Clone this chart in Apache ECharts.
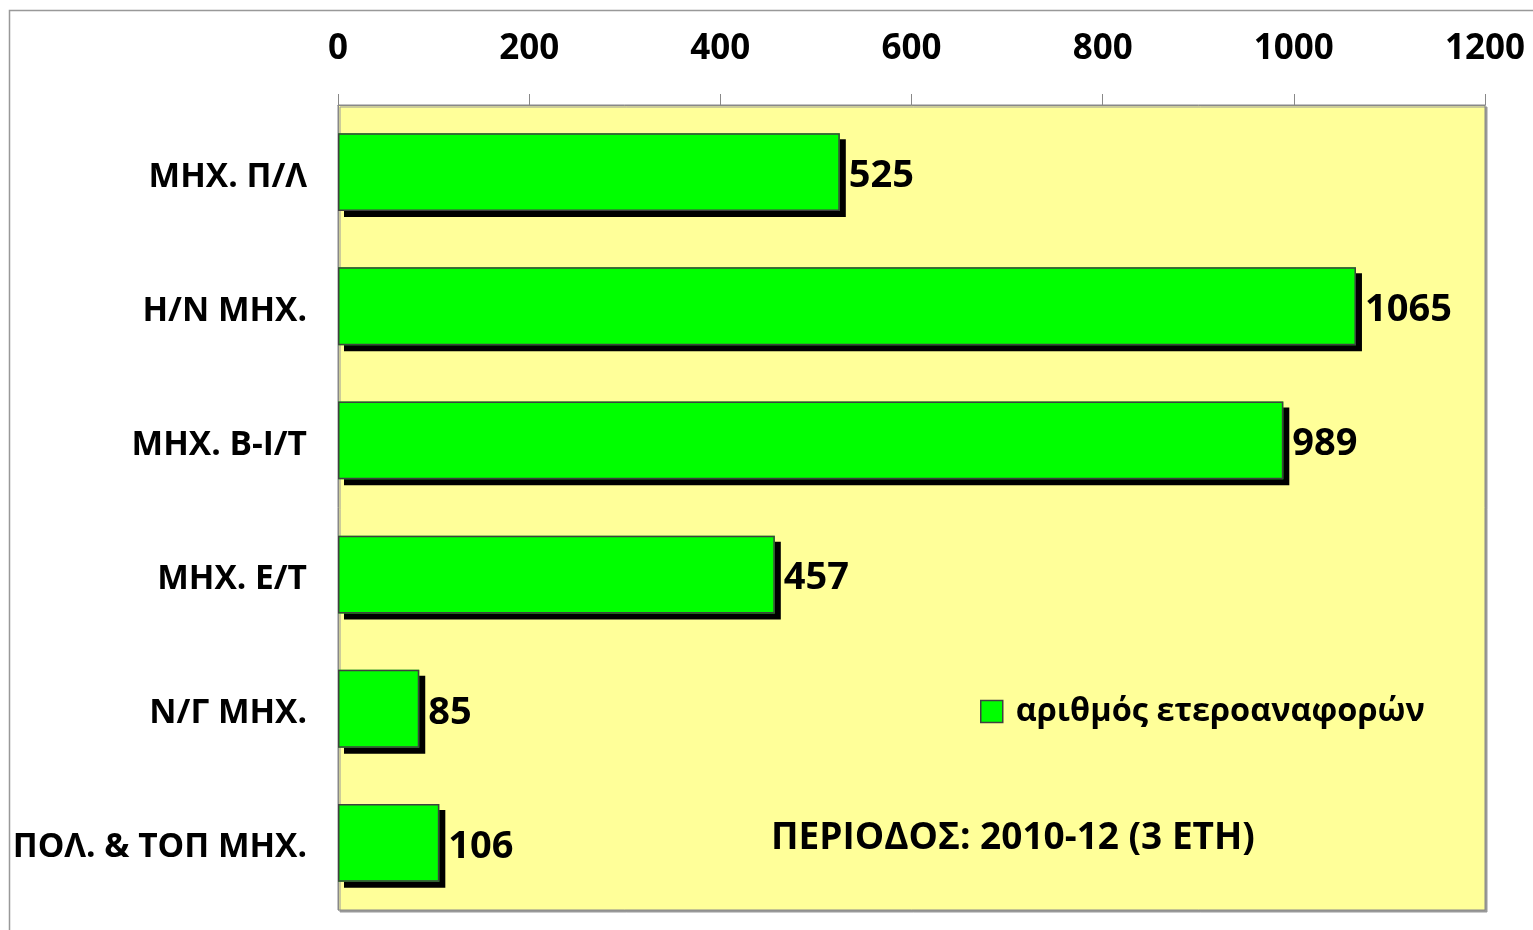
<!DOCTYPE html>
<html lang="el">
<head>
<meta charset="utf-8">
<title>ετεροαναφορές</title>
<script src="https://cdn.jsdelivr.net/npm/echarts@6/dist/echarts.min.js"></script>
<style>
  html, body { margin: 0; padding: 0; background: #fff; }
  #main { width: 1533px; height: 930px; }
</style>
</head>
<body>
<div id="main"></div>
<script>
// κατηγορίες και τιμές
var categories = ['ΜΗΧ. Π/Λ', 'Η/Ν ΜΗΧ.', 'ΜΗΧ. Β-Ι/Τ', 'ΜΗΧ. Ε/Τ', 'Ν/Γ ΜΗΧ.', 'ΠΟΛ. & ΤΟΠ ΜΗΧ.'];
var values = [525, 1065, 989, 457, 85, 106];
var seriesName = 'αριθμός ετεροαναφορών';
var periodText = 'ΠΕΡΙΟΔΟΣ: 2010-12 (3 ΕΤΗ)';
var xTicks = [0, 200, 400, 600, 800, 1000, 1200];

var font = '"Open Sans", "Noto Sans", sans-serif';
var chart = echarts.init(document.getElementById('main'));

var option = {
    backgroundColor: '#fff',
    animation: false,
    grid: {
        left: 338, right: 48, top: 105, bottom: 20,
        show: true,
        backgroundColor: '#FFFF99',
        borderColor: '#888',
        borderWidth: 1,
        shadowColor: '#999',
        shadowOffsetX: 2,
        shadowOffsetY: 2
    },
    legend: {
        left: 975, top: 690,
        itemWidth: 22, itemHeight: 22,
        textStyle: { fontFamily: font, fontWeight: 'bold', fontSize: 32.5, color: '#000', padding: [0, 0, 0, 8] },
        data: [{ name: seriesName, icon: 'rect',
                 itemStyle: { color: '#00FF00', borderColor: '#404040', borderWidth: 1.5, shadowBlur: 0, shadowOffsetX: 0, shadowOffsetY: 0 } }]
    },
    xAxis: {
        type: 'value',
        position: 'top',
        min: xTicks[0],
        max: xTicks[xTicks.length - 1],
        interval: 200,
        axisLine: { show: true, lineStyle: { color: '#888', width: 1 } },
        axisTick: { show: true, inside: false, length: 11, lineStyle: { color: '#888' } },
        splitLine: { show: false },
        axisLabel: {
            margin: 38, fontFamily: font, fontWeight: 'bold', fontSize: 35, color: '#000',
            formatter: function (v) { return String(v); }
        }
    },
    yAxis: {
        type: 'category',
        inverse: true,
        data: categories,
        axisLine: { show: true, lineStyle: { color: '#888' } },
        axisTick: { show: false },
        axisLabel: {
            margin: 31,
            formatter: function (v) { return '{c|' + v + '}'; },
            rich: {
                c: { fontFamily: font, fontWeight: 'bold', fontSize: 33.5, color: '#000', padding: [10, 0, 0, 0] }
            }
        }
    },
    series: [{
        name: seriesName,
        type: 'bar',
        data: values,
        barCategoryGap: '42%',
        itemStyle: {
            color: '#00FF00',
            borderWidth: 0,
            shadowColor: '#000',
            shadowBlur: 0,
            shadowOffsetX: 6,
            shadowOffsetY: 6
        },
        label: {
            show: true,
            position: 'right',
            distance: 9,
            offset: [0, 4],
            fontFamily: font,
            fontWeight: 'bold',
            fontSize: 38,
            color: '#000'
        }
    }, {
        // contour of the bars, drawn without the shadow
        name: 'outline',
        type: 'bar',
        data: values,
        barGap: '-100%',
        barCategoryGap: '42%',
        silent: true,
        z: 3,
        itemStyle: { color: 'rgba(0,0,0,0)', borderColor: '#404040', borderWidth: 1.5 }
    }],
    graphic: [
        {
            type: 'rect',
            shape: { x: 9.5, y: 10.5, width: 1560, height: 960 },
            style: { fill: 'none', stroke: '#999', lineWidth: 1.5 },
            silent: true, z: -1
        },
        {
            type: 'text',
            left: 771, top: 820,
            style: { text: periodText, font: 'bold 37px ' + font, fill: '#000' }
        }
    ]
};
chart.setOption(option);
</script>
</body>
</html>
